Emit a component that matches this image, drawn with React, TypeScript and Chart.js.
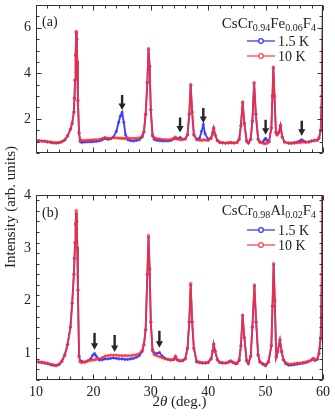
import React, { useEffect, useRef } from 'react';
import { Chart, registerables } from 'chart.js';

Chart.register(...registerables);

const FONT = '"Liberation Serif", "Times New Roman", serif';

// ---------- Panel (a): CsCr0.94Fe0.06F4 ----------
const xA = [
  10, 10.5, 11, 11.5, 12, 12.5, 13, 13.5, 14, 14.5,
  15, 15.5, 16, 16.3, 16.6, 16.7, 16.8, 16.9, 17.0, 17.1,
  17.2, 17.3, 17.5, 17.7, 18, 18.5, 19, 19.5, 20, 20.5,
  21, 21.5, 22, 22.5, 23, 23.5, 24, 24.4, 24.7, 25.0,
  25.3, 25.6, 26, 26.5, 27, 27.5, 28, 28.5, 28.8, 29.1,
  29.4, 29.6, 29.8, 30.0, 30.3, 30.6, 31, 31.5, 32, 32.5,
  33, 33.5, 34, 34.3, 34.6, 35.1, 35.5, 36, 36.4, 36.7,
  36.95, 37.2, 37.5, 38, 38.5, 38.85, 39.15, 39.45, 40, 40.5,
  40.8, 40.96, 41.2, 41.6, 42, 42.5, 43, 43.5, 44, 44.5,
  45, 45.4, 45.7, 46.0, 46.3, 46.7, 47, 47.4, 47.7, 48.0,
  48.3, 48.7, 49, 49.5, 49.8, 50.0, 50.3, 50.6, 51.0, 51.2,
  51.35, 51.55, 51.8, 52.0, 52.3, 52.6, 52.9, 53.3, 54, 54.5,
  55, 55.5, 56, 56.3, 56.6, 57, 57.5, 58, 58.5, 59,
  59.3, 59.6, 59.8, 60,
];
const redA = [
  1.05, 1.04, 1.03, 1.02, 1.00, 0.98, 0.96, 0.95, 0.96, 1.00,
  1.08, 1.25, 1.55, 1.8, 2.3, 2.9, 3.7, 4.8, 5.85, 5.5,
  4.5, 2.8, 1.4, 1.06, 1.05, 1.05, 1.06, 1.07, 1.08, 1.09,
  1.10, 1.13, 1.18, 1.15, 1.15, 1.17, 1.16, 1.15, 1.15, 1.14,
  1.14, 1.14, 1.15, 1.14, 1.14, 1.15, 1.16, 1.25, 1.45, 2.2,
  3.6, 5.09, 4.3, 2.4, 1.3, 1.17, 1.14, 1.12, 1.10, 1.09,
  1.08, 1.10, 1.15, 1.2, 1.12, 1.08, 1.09, 1.12, 1.3, 2.2,
  3.51, 2.3, 1.3, 1.08, 1.06, 1.06, 1.08, 1.07, 1.05, 1.15,
  1.4, 1.6, 1.3, 1.05, 0.97, 0.95, 0.94, 0.94, 0.95, 0.94,
  0.96, 1.1, 1.7, 2.75, 1.8, 1.02, 0.94, 1.1, 1.9, 3.6,
  2.2, 1.1, 0.97, 0.93, 0.92, 0.91, 0.93, 1.0, 1.6, 3.0,
  4.27, 3.0, 1.4, 1.3, 1.4, 1.72, 1.2, 0.98, 0.93, 0.92,
  0.93, 0.95, 0.96, 0.98, 0.98, 0.97, 0.99, 1.03, 1.05, 1.06,
  1.15, 1.5, 3.0, 7.5,
];
const blueA = [
  1.04, 1.03, 1.02, 1.01, 0.99, 0.97, 0.95, 0.94, 0.95, 0.99,
  1.07, 1.24, 1.54, 1.8, 2.3, 2.9, 3.7, 4.8, 5.8, 5.5,
  4.5, 2.8, 1.38, 1.0, 0.97, 0.98, 0.99, 0.99, 1.00, 1.01,
  1.03, 1.07, 1.14, 1.10, 1.12, 1.2, 1.45, 1.85, 2.12, 2.28,
  1.85, 1.3, 1.08, 1.04, 1.03, 1.05, 1.08, 1.2, 1.42, 2.2,
  3.6, 5.05, 4.3, 2.4, 1.25, 1.1, 1.06, 1.04, 1.03, 1.03,
  1.03, 1.05, 1.12, 1.15, 1.12, 1.18, 1.1, 1.12, 1.3, 2.2,
  3.48, 2.3, 1.3, 1.1, 1.15, 1.45, 1.75, 1.35, 1.1, 1.15,
  1.4, 1.58, 1.3, 1.05, 0.97, 0.95, 0.93, 0.95, 0.96, 0.94,
  0.96, 1.1, 1.7, 2.72, 1.8, 1.02, 0.94, 1.1, 1.9, 3.55,
  2.2, 1.1, 0.98, 0.98, 1.08, 1.14, 1.05, 1.0, 1.6, 3.0,
  4.25, 3.0, 1.4, 1.3, 1.4, 1.7, 1.2, 0.98, 0.94, 0.94,
  0.96, 0.98, 1.03, 1.08, 1.02, 0.98, 0.98, 1.02, 1.05, 1.06,
  1.15, 1.5, 3.0, 7.5,
];
const arrowXA = [25.0, 35.1, 39.15, 50.0, 56.3];
const arrowYA = [2.39, 1.4, 1.82, 1.3, 1.26];
const yTicksA = [2, 4, 6];
const formulaA: [string, boolean][] = [['CsCr', false], ['0.94', true], ['Fe', false], ['0.06', true], ['F', false], ['4', true]];

// ---------- Panel (b): CsCr0.98Al0.02F4 ----------
const xB = [
  10, 10.5, 11, 11.5, 12, 12.5, 13, 13.5, 14, 14.5,
  15, 15.5, 16, 16.3, 16.6, 16.7, 16.8, 16.9, 17.0, 17.1,
  17.2, 17.3, 17.5, 17.7, 18, 18.5, 19, 19.5, 19.9, 20.2,
  20.5, 21, 21.5, 22, 22.5, 23, 23.5, 24, 24.5, 25,
  25.5, 26, 26.5, 27, 27.5, 28, 28.5, 28.8, 29.1, 29.4,
  29.6, 29.8, 30.0, 30.3, 30.6, 31, 31.5, 32, 32.5, 33,
  33.5, 34, 34.3, 34.6, 35, 35.5, 36, 36.4, 36.7, 36.95,
  37.2, 37.5, 38, 38.5, 39, 39.5, 40, 40.5, 40.8, 40.96,
  41.2, 41.6, 42, 42.5, 43, 43.5, 43.9, 44.3, 44.7, 45,
  45.4, 45.7, 46.0, 46.3, 46.7, 47, 47.4, 47.7, 48.05, 48.35,
  48.7, 49, 49.5, 50, 50.5, 51.0, 51.2, 51.4, 51.6, 51.85,
  52.1, 52.5, 52.8, 53.1, 53.5, 54, 54.5, 55, 55.5, 56,
  56.5, 57, 57.5, 58, 58.3, 58.6, 59, 59.3, 59.6, 59.8,
  60,
];
const redB = [
  0.85, 0.84, 0.84, 0.83, 0.82, 0.80, 0.79, 0.78, 0.80, 0.86,
  0.97, 1.17, 1.5, 1.95, 2.5, 2.8, 3.1, 3.45, 3.71, 3.5,
  3.0, 2.2, 0.95, 0.84, 0.83, 0.84, 0.86, 0.87, 0.88, 0.88,
  0.89, 0.90, 0.92, 0.95, 0.96, 0.97, 0.97, 0.97, 0.96, 0.96,
  0.96, 0.96, 0.96, 0.97, 0.98, 1.0, 1.06, 1.17, 1.45, 2.5,
  3.24, 2.6, 1.6, 1.05, 0.98, 0.96, 0.94, 0.92, 0.90, 0.89,
  0.88, 0.89, 0.95, 0.89, 0.87, 0.87, 0.9, 1.1, 1.6, 2.33,
  1.6, 1.1, 0.86, 0.84, 0.83, 0.83, 0.84, 0.9, 1.05, 1.18,
  1.05, 0.89, 0.84, 0.83, 0.82, 0.83, 0.86, 0.84, 0.82, 0.82,
  0.88, 1.15, 1.73, 1.3, 0.87, 0.82, 0.95, 1.5, 2.3, 1.6,
  0.98, 0.85, 0.81, 0.79, 0.85, 1.15, 1.9, 2.71, 2.0, 0.94,
  1.05, 1.26, 1.05, 0.89, 0.83, 0.80, 0.80, 0.81, 0.82, 0.82,
  0.83, 0.84, 0.86, 0.88, 0.91, 0.88, 0.90, 1.0, 1.3, 2.5,
  6,
];
const blueB = [
  0.85, 0.84, 0.83, 0.82, 0.81, 0.79, 0.78, 0.77, 0.79, 0.85,
  0.97, 1.17, 1.5, 1.95, 2.5, 2.8, 3.1, 3.45, 3.65, 3.5,
  3.0, 2.2, 0.95, 0.86, 0.85, 0.84, 0.86, 0.9, 0.97, 1.0,
  0.95, 0.88, 0.88, 0.90, 0.90, 0.91, 0.92, 0.91, 0.90, 0.90,
  0.89, 0.89, 0.90, 0.91, 0.93, 0.96, 1.04, 1.17, 1.45, 2.5,
  3.2, 2.6, 1.6, 1.07, 1.01, 1.0, 1.02, 0.95, 0.91, 0.89,
  0.88, 0.89, 0.94, 0.88, 0.86, 0.86, 0.9, 1.1, 1.6, 2.3,
  1.6, 1.1, 0.84, 0.83, 0.82, 0.82, 0.83, 0.9, 1.05, 1.17,
  1.05, 0.88, 0.83, 0.82, 0.82, 0.84, 0.86, 0.83, 0.81, 0.81,
  0.87, 1.15, 1.72, 1.3, 0.86, 0.81, 0.95, 1.5, 2.28, 1.6,
  0.97, 0.84, 0.80, 0.77, 0.84, 1.15, 1.9, 2.68, 2.0, 0.93,
  1.03, 1.25, 1.03, 0.88, 0.81, 0.78, 0.78, 0.79, 0.80, 0.81,
  0.82, 0.83, 0.85, 0.88, 0.90, 0.87, 0.89, 1.0, 1.3, 2.5,
  6,
];
const arrowXB = [20.2, 23.7, 31.5];
const arrowYB = [1.07, 1.03, 1.11];
const yTicksB = [1, 2, 3, 4];
const formulaB: [string, boolean][] = [['CsCr', false], ['0.98', true], ['Al', false], ['0.02', true], ['F', false], ['4', true]];

// ---------- shared ----------
const xTicks = [10, 20, 30, 40, 50, 60];
const seriesLabels = ['1.5 K', '10 K'];
const BLUE = '#3a3aff';
const RED = 'rgba(255,45,45,0.88)';

function pts(xs: number[], ys: number[]) {
  return xs.map((x, i) => ({ x, y: ys[i] }));
}

type PanelCfg = {
  xs: number[]; blue: number[]; red: number[];
  yMin: number; yMax: number; yTicks: number[]; yMinor: number;
  arrowsX: number[]; arrowsY: number[]; arrowLen: number;
  label: string; labelBase: number; formula: [string, boolean][];
  legendOff: [number, number, number];
  padding: { top: number; bottom: number; left: number; right: number };
  showX: boolean; titles: boolean;
};

function decor(cfg: PanelCfg) {
  return {
    id: 'decor',
    afterDatasetsDraw(chart: any) {
      const { ctx, chartArea: a } = chart;
      const sx = chart.scales.x, sy = chart.scales.y;
      ctx.save();
      // arrows
      ctx.fillStyle = '#262626';
      cfg.arrowsX.forEach((xv, i) => {
        const px = sx.getPixelForValue(xv);
        const tip = sy.getPixelForValue(cfg.arrowsY[i]);
        const L = cfg.arrowLen;
        ctx.fillRect(px - 1.2, tip - L, 2.4, L - 5);
        ctx.beginPath();
        ctx.moveTo(px - 3.6, tip - 6.5);
        ctx.lineTo(px + 3.6, tip - 6.5);
        ctx.lineTo(px, tip);
        ctx.closePath();
        ctx.fill();
      });
      // frame
      const L0 = Math.round(a.left) + 0.5, R0 = Math.round(a.right) - 0.5;
      const T0 = Math.round(a.top) + 0.5, B0 = Math.round(a.bottom) - 0.5;
      ctx.strokeStyle = '#333';
      ctx.lineWidth = 1;
      ctx.strokeRect(L0, T0, R0 - L0, B0 - T0);
      ctx.beginPath();
      for (let v = 10; v <= 60.001; v += 2) {
        const px = Math.round(sx.getPixelForValue(v)) + 0.5;
        const len = Math.abs(v % 10) < 0.01 ? 5 : 3;
        ctx.moveTo(px, B0); ctx.lineTo(px, B0 - len);
        ctx.moveTo(px, T0); ctx.lineTo(px, T0 + len);
      }
      for (let v = cfg.yMin; v <= cfg.yMax + 0.001; v += cfg.yMinor) {
        const py = Math.round(sy.getPixelForValue(v)) + 0.5;
        const major = cfg.yTicks.some(t => Math.abs(t - v) < 0.01);
        const len = major ? 5 : 3;
        ctx.moveTo(L0, py); ctx.lineTo(L0 + len, py);
        ctx.moveTo(R0, py); ctx.lineTo(R0 - len, py);
      }
      ctx.stroke();

      // panel label
      ctx.fillStyle = '#222';
      ctx.textBaseline = 'alphabetic';
      ctx.textAlign = 'left';
      ctx.font = `14px ${FONT}`;
      ctx.fillText(cfg.label, 42, cfg.labelBase);

      // formula (right aligned)
      const main = `15px ${FONT}`, sub = `10px ${FONT}`;
      let w = 0;
      for (const [t, s] of cfg.formula) { ctx.font = s ? sub : main; w += ctx.measureText(t).width; }
      let fx = 316 - w;
      const fb = a.top + cfg.legendOff[0];
      for (const [t, s] of cfg.formula) {
        ctx.font = s ? sub : main;
        ctx.fillText(t, fx, s ? fb + 3 : fb);
        fx += ctx.measureText(t).width;
      }
      // legend entries
      const cols = [BLUE, RED];
      [1, 2].forEach((k, i) => {
        const y = a.top + cfg.legendOff[k];
        ctx.strokeStyle = cols[i];
        ctx.lineWidth = 1.3;
        ctx.beginPath(); ctx.moveTo(247, y); ctx.lineTo(275, y); ctx.stroke();
        ctx.beginPath(); ctx.arc(261, y, 2.3, 0, Math.PI * 2);
        ctx.fillStyle = '#fff'; ctx.fill(); ctx.stroke();
        ctx.fillStyle = '#222';
        ctx.font = `14px ${FONT}`;
        ctx.fillText(seriesLabels[i], 278, y + 4.5);
      });

      if (cfg.titles) {
        // y title
        ctx.save();
        ctx.translate(11, 207);
        ctx.rotate(-Math.PI / 2);
        ctx.textAlign = 'center';
        ctx.textBaseline = 'middle';
        ctx.font = `15px ${FONT}`;
        ctx.fillStyle = '#222';
        ctx.fillText('Intensity (arb. units)', 0, 0);
        ctx.restore();
        // x title: 2θ (deg.)
        const parts: [string, string][] = [['2', `15px ${FONT}`], ['θ', `italic 15px ${FONT}`], [' (deg.)', `15px ${FONT}`]];
        let tw = 0;
        for (const [t, f] of parts) { ctx.font = f; tw += ctx.measureText(t).width; }
        let tx = (a.left + a.right) / 2 - tw / 2;
        for (const [t, f] of parts) {
          ctx.font = f;
          ctx.fillText(t, tx, 406);
          tx += ctx.measureText(t).width;
        }
      }
      ctx.restore();
    },
  };
}

function makeChart(canvas: HTMLCanvasElement, cfg: PanelCfg) {
  const ds = (label: string, ys: number[], col: string) => ({
    label,
    data: pts(cfg.xs, ys),
    borderColor: col,
    borderWidth: 1.8,
    pointRadius: 1.2,
    pointBorderWidth: 0.8,
    pointBorderColor: col,
    pointBackgroundColor: 'rgba(255,255,255,0)',
    tension: 0,
  });
  return new Chart(canvas, {
    type: 'line',
    data: {
      datasets: [ds(seriesLabels[1], cfg.red, RED), ds(seriesLabels[0], cfg.blue, BLUE)],
    },
    options: {
      responsive: false,
      animation: false,
      layout: { padding: cfg.padding },
      plugins: { legend: { display: false }, tooltip: { enabled: false } },
      scales: {
        x: {
          type: 'linear', min: 10, max: 60, display: cfg.showX,
          grid: { display: false, drawTicks: false }, border: { display: false },
          ticks: { font: { family: FONT, size: 14 }, color: '#222', padding: 4, maxRotation: 0, autoSkip: false },
          afterBuildTicks: (s: any) => { s.ticks = xTicks.map(v => ({ value: v })); },
          afterFit: (s: any) => { s.height = 38; s.paddingLeft = 0; s.paddingRight = 0; },
        },
        y: {
          type: 'linear', min: cfg.yMin, max: cfg.yMax,
          grid: { display: false, drawTicks: false }, border: { display: false },
          ticks: { font: { family: FONT, size: 14 }, color: '#222', padding: 5 },
          afterBuildTicks: (s: any) => { s.ticks = cfg.yTicks.map(v => ({ value: v })); },
          afterFit: (s: any) => { s.width = 36; s.paddingTop = 0; s.paddingBottom = 0; },
        },
      },
    } as any,
    plugins: [decor(cfg)],
  });
}

export default function App() {
  const ref1 = useRef<HTMLCanvasElement>(null);
  const ref2 = useRef<HTMLCanvasElement>(null);
  useEffect(() => {
    const c1 = makeChart(ref1.current!, {
      xs: xA, blue: blueA, red: redA, yMin: 0.5, yMax: 7, yTicks: yTicksA, yMinor: 0.5,
      arrowsX: arrowXA, arrowsY: arrowYA, arrowLen: 15, label: '(a)', labelBase: 26,
      formula: formulaA, legendOff: [23, 36, 51],
      padding: { top: 5, bottom: 227, left: 0, right: 12 }, showX: false, titles: false,
    });
    const c2 = makeChart(ref2.current!, {
      xs: xB, blue: blueB, red: redB, yMin: 0.5, yMax: 4, yTicks: yTicksB, yMinor: 0.2,
      arrowsX: arrowXB, arrowsY: arrowYB, arrowLen: 17, label: '(b)', labelBase: 217,
      formula: formulaB, legendOff: [20, 35, 50],
      padding: { top: 195, bottom: 0, left: 0, right: 12 }, showX: true, titles: true,
    });
    return () => { c1.destroy(); c2.destroy(); };
  }, []);
  const cs: React.CSSProperties = { position: 'absolute', left: 0, top: 0 };
  return (
    <div style={{ position: 'fixed', left: 0, top: 0, width: 335, height: 418, background: '#fff' }}>
      <canvas ref={ref1} width={335} height={418} style={cs} />
      <canvas ref={ref2} width={335} height={418} style={cs} />
    </div>
  );
}
